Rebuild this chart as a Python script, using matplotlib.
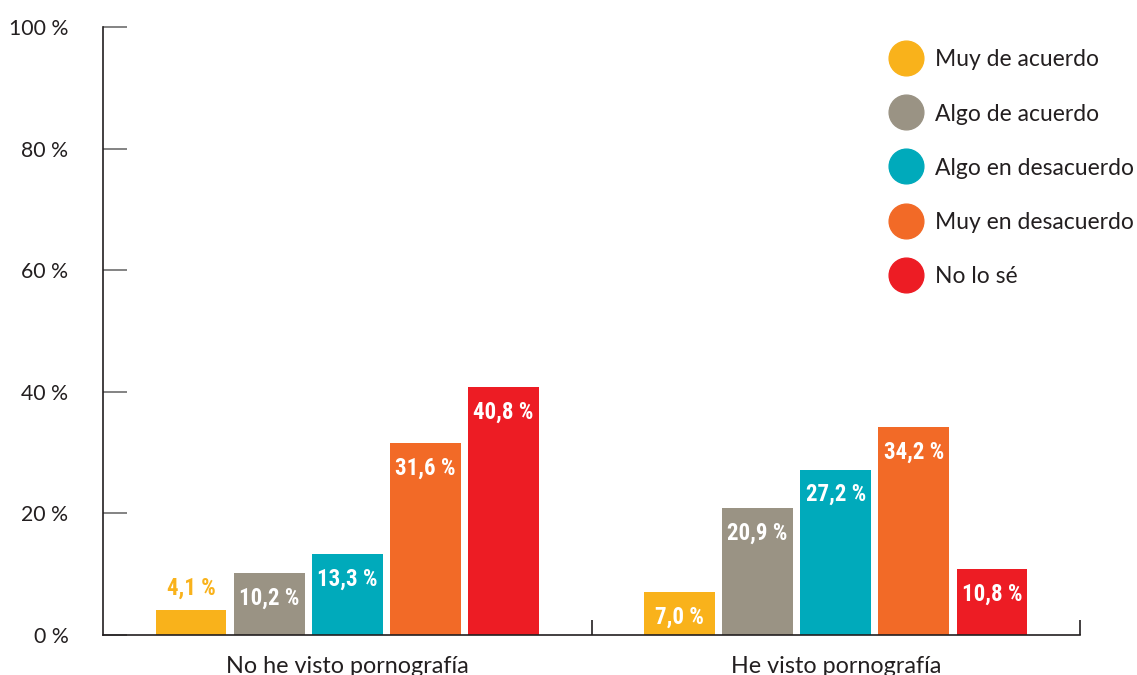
import matplotlib
matplotlib.use("Agg")
import matplotlib.pyplot as plt
import numpy as np

# Data
groups = ["No he visto pornografía", "He visto pornografía"]
series = ["Muy de acuerdo", "Algo de acuerdo", "Algo en desacuerdo",
          "Muy en desacuerdo", "No lo sé"]
values = {
    "Muy de acuerdo": [4.1, 7.0],
    "Algo de acuerdo": [10.2, 20.9],
    "Algo en desacuerdo": [13.3, 27.2],
    "Muy en desacuerdo": [31.6, 34.2],
    "No lo sé": [40.8, 10.8],
}
colors = ["#F9B21B", "#9A9384", "#00AABB", "#F26A27", "#ED1C24"]
yticks = [0, 20, 40, 60, 80, 100]

W, H = 1137, 675
fig = plt.figure(figsize=(W / 100, H / 100), dpi=100)
ax = fig.add_axes([103 / W, 1 - 635 / H, (1080 - 103) / W, (635 - 27) / H])

text_color = "#231F20"
base_font = ["Lato", "DejaVu Sans"]
label_font = ["Roboto Condensed", "DejaVu Sans"]

x = np.arange(len(groups))
bar_w = 0.145
step = 0.16
offsets = (np.arange(len(series)) - (len(series) - 1) / 2) * step
px_per_unit = (635 - 27) / 100.0

for i, (name, col) in enumerate(zip(series, colors)):
    vals = values[name]
    ax.bar(x + offsets[i], vals, width=bar_w, color=col, zorder=2)
    for xi, v in zip(x + offsets[i], vals):
        txt = f"{v:.1f} %".replace(".", ",")
        if v < 6:
            y = v + 22 / px_per_unit
            c = col
        else:
            y = v - 25 / px_per_unit
            c = "white"
        ax.text(xi, y, txt, ha="center", va="center", color=c,
                fontsize=16.5, fontweight="bold", family=label_font, zorder=3)

ax.set_xlim(-0.5, 1.5)
ax.set_ylim(0, 100)

for s in ["top", "right"]:
    ax.spines[s].set_visible(False)
for s in ["left", "bottom"]:
    ax.spines[s].set_color(text_color)
    ax.spines[s].set_linewidth(1.2)

ax.set_yticks(yticks)
ax.set_yticklabels([f"{t} %" for t in yticks], family=base_font,
                   fontsize=15.3, color=text_color)
ax.tick_params(axis="y", direction="in", length=17.5, width=1.2,
               color="#6E6E6E", pad=25)

ax.set_xticks(x)
ax.set_xticklabels(groups, family=base_font, fontsize=16.8, color=text_color)
ax.tick_params(axis="x", which="major", length=0, pad=15)
ax.set_xticks([0.5, 1.5], minor=True)
ax.tick_params(axis="x", which="minor", direction="in", length=10.5,
               width=1.2, color=text_color)

# Legend drawn as circles and labels at fixed figure positions
for i, (name, col) in enumerate(zip(series, colors)):
    yp = 1 - (58 + 54.2 * i) / H
    ax.plot([906 / W], [yp], marker="o", markersize=25, color=col,
            transform=fig.transFigure, clip_on=False, linestyle="none")
    fig.text(935 / W, yp - 2 / H, name, ha="left", va="center", fontsize=16.5,
             family=base_font, color=text_color)

fig.savefig("out.png", dpi=100)
